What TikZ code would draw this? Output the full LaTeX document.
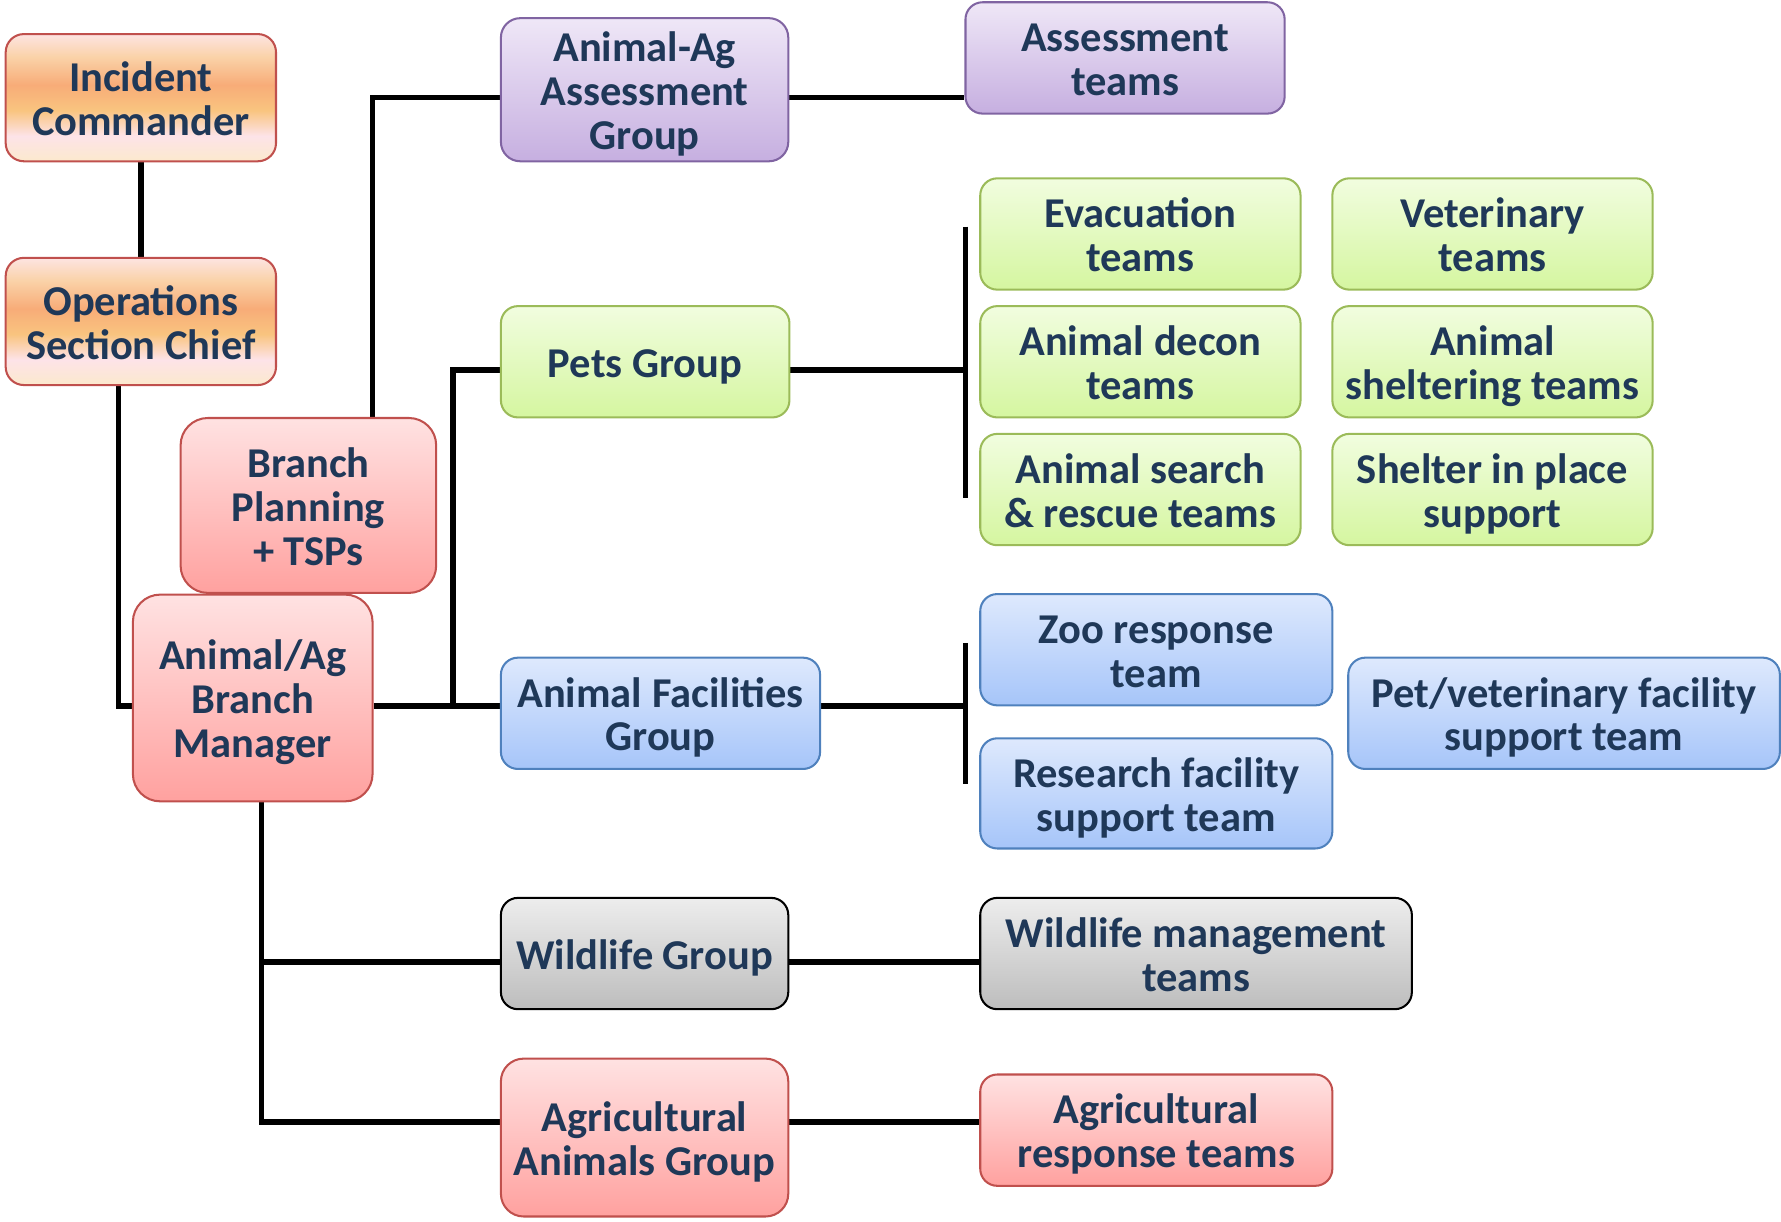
\documentclass[tikz,border=0pt]{standalone}
\usepackage{fontspec}
\setmainfont{Carlito}
\usetikzlibrary{backgrounds}

% text and border colours
\definecolor{txt}{RGB}{31,56,88}
\definecolor{redline}{HTML}{C0504D}
\definecolor{purpleline}{HTML}{8064A2}
\definecolor{greenline}{HTML}{9BBB59}
\definecolor{blueline}{HTML}{4F81BD}

% gradient stops
\definecolor{oT}{HTML}{FDE4E2}
\definecolor{oA}{HTML}{FAD2A8}
\definecolor{oB}{HTML}{F8AC78}
\definecolor{oC}{HTML}{F9C47F}
\definecolor{oD}{HTML}{FDE3E8}
\definecolor{oE}{HTML}{FCE9CD}
\definecolor{rT}{HTML}{FFE2E2}
\definecolor{rB}{HTML}{FFA19F}
\definecolor{pT}{HTML}{EFE7F7}
\definecolor{pB}{HTML}{C6AFE0}
\definecolor{gT}{HTML}{F1FDDF}
\definecolor{gB}{HTML}{D5F6A0}
\definecolor{bT}{HTML}{DEE9FD}
\definecolor{bB}{HTML}{A6C5F9}
\definecolor{kT}{HTML}{EDEDED}
\definecolor{kB}{HTML}{BDBDBD}

\pgfdeclareverticalshading{orangeg}{100bp}{color(0bp)=(oE); color(25bp)=(oE); color(35bp)=(oD); color(45bp)=(oC); color(55bp)=(oB); color(66bp)=(oA); color(75bp)=(oT); color(100bp)=(oT)}
\pgfdeclareverticalshading{redg}{100bp}{color(0bp)=(rB); color(25bp)=(rB); color(75bp)=(rT); color(100bp)=(rT)}
\pgfdeclareverticalshading{purpleg}{100bp}{color(0bp)=(pB); color(25bp)=(pB); color(75bp)=(pT); color(100bp)=(pT)}
\pgfdeclareverticalshading{greeng}{100bp}{color(0bp)=(gB); color(25bp)=(gB); color(75bp)=(gT); color(100bp)=(gT)}
\pgfdeclareverticalshading{blueg}{100bp}{color(0bp)=(bB); color(25bp)=(bB); color(75bp)=(bT); color(100bp)=(bT)}
\pgfdeclareverticalshading{grayg}{100bp}{color(0bp)=(kB); color(25bp)=(kB); color(75bp)=(kT); color(100bp)=(kT)}

% fixed height for the first line of every label
\newcommand{\capstrut}{\rule{0pt}{36.6pt}}

\tikzset{
  box/.style={rounded corners=15pt, line width=1.8pt, align=center, inner sep=0pt,
    text=txt, font=\fontsize{37.4}{38.7}\selectfont\bfseries, shade, text depth=9pt},
  orangebox/.style={box, shading=orangeg, draw=redline, rounded corners=16pt},
  redbox/.style={box, shading=redg, draw=redline},
  purplebox/.style={box, shading=purpleg, draw=purpleline},
  greenbox/.style={box, shading=greeng, draw=greenline},
  bluebox/.style={box, shading=blueg, draw=blueline},
  graybox/.style={box, shading=grayg, draw=black},
  sz/.style 2 args={minimum width=#1pt, minimum height=#2pt},
  link/.style={line width=4.8pt, black}
}

\begin{document}
\begin{tikzpicture}[x=1pt, y=-1pt]
\useasboundingbox (0,0) rectangle (1568,1075);

% command chain
\node[orangebox, sz={238}{112}] (ic)  at (124,86)  {\capstrut Incident\\Commander};
\node[orangebox, sz={238}{112}] (osc) at (124,283) {\capstrut Operations\\Section Chief};
\node[redbox, sz={225}{154}, rounded corners=24pt] (bp) at (271.5,445) {\capstrut Branch\\Planning\\+ TSPs};
\node[redbox, sz={211}{182}, rounded corners=24pt] (bm) at (222.5,614.5) {\capstrut Animal/Ag\\Branch\\Manager};

% groups
\node[purplebox, sz={253}{126}, rounded corners=17pt] (aag) at (567.5,79) {\capstrut Animal-Ag\\Assessment\\Group};
\node[greenbox, sz={254}{98}] (pets) at (568,318.5) {\capstrut Pets Group};
\node[bluebox, sz={281}{98}] (afg) at (581.5,628) {\capstrut Animal Facilities\\Group};
\node[graybox, sz={253}{98}] (wg) at (567.5,839.5) {\capstrut Wildlife Group};
\node[redbox, sz={253}{139}, rounded corners=20pt] (aga) at (567.5,1001.5) {\capstrut Agricultural\\Animals Group};

% teams
\node[purplebox, sz={281}{98}] (at) at (990.5,51) {\capstrut Assessment\\teams};
\node[greenbox, sz={282}{98}] (evac)  at (1004,206)   {\capstrut Evacuation\\teams};
\node[greenbox, sz={282}{98}] (vet)   at (1314,206)   {\capstrut Veterinary\\teams};
\node[greenbox, sz={282}{98}] (decon) at (1004,318.5) {\capstrut Animal decon\\teams};
\node[greenbox, sz={282}{98}] (shel)  at (1314,318.5) {\capstrut Animal\\sheltering teams};
\node[greenbox, sz={282}{98}] (sar)   at (1004,431)   {\capstrut Animal search\\\& rescue teams};
\node[greenbox, sz={282}{98}] (sip)   at (1314,431)   {\capstrut Shelter in place\\support};
\node[bluebox, sz={310}{98}] (zoo)  at (1018,572)   {\capstrut Zoo response\\team};
\node[bluebox, sz={310}{97}] (res)  at (1018,698.5) {\capstrut Research facility\\support team};
\node[bluebox, sz={380}{98}] (pvet) at (1377,628)   {\capstrut Pet/veterinary facility\\support team};
\node[graybox, sz={380}{98}] (wmt) at (1053,839.5) {\capstrut Wildlife management\\teams};
\node[redbox, sz={310}{98}] (art) at (1018,995) {\capstrut Agricultural\\response teams};

% junction points of the connectors
\coordinate (mj) at (104.5,621.5);
\coordinate (tj) at (399,621.5);
\coordinate (py) at (399,325.8);
\coordinate (ay) at (328,86);
\coordinate (pb) at (850,325.8);
\coordinate (pbt) at (850,199.6);
\coordinate (pbb) at (850,438);
\coordinate (fb) at (850,621.5);
\coordinate (fbt) at (850,566);
\coordinate (fbb) at (850,690);
\coordinate (wy) at (230.4,847);
\coordinate (gy) at (230.4,988);

\begin{scope}[on background layer]
  \draw[link] (ic.south) -- (osc.north);
  \draw[link] (osc.south -| mj) |- (bm.west |- mj);
  \draw[link] (bm.east |- mj) -- (afg.west |- mj);
  \draw[link] (tj) |- (pets.west |- py);
  \draw[link] (bp.north -| ay) |- (aag.west |- ay);
  \draw[link] (aag.east |- ay) -- (at.west |- ay);
  \draw[link] (pets.east |- pb) -- (pb);
  \draw[link] (pbt) -- (pbb);
  \draw[link] (afg.east |- fb) -- (fb);
  \draw[link] (fbt) -- (fbb);
  \draw[link] (bm.south -| gy) |- (aga.west |- gy);
  \draw[link] (wy) -- (wg.west |- wy);
  \draw[link] (wg.east |- wy) -- (wmt.west |- wy);
  \draw[link] (aga.east |- gy) -- (art.west |- gy);
\end{scope}
\end{tikzpicture}
\end{document}
